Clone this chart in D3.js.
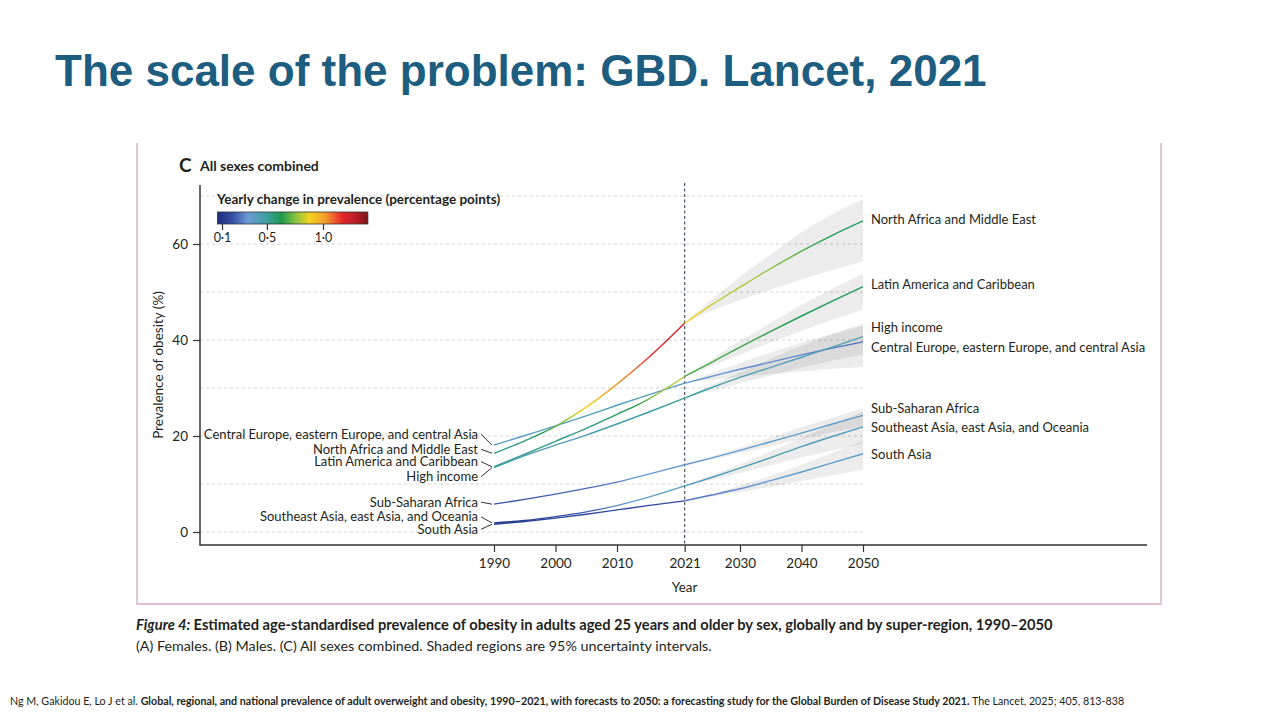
<!DOCTYPE html>
<html>
<head>
<meta charset="utf-8">
<script src="https://cdn.jsdelivr.net/npm/d3@7"></script>
<style>
  body { margin: 0; background: #fff; }
  svg text { font-family: Lato, "Open Sans", sans-serif; fill: #231f20; }
  .title { font-family: "Liberation Sans", Arial, sans-serif; font-weight: bold; fill: #1d5d7f; }
  .grid line { stroke: #d2d2d2; stroke-width: 1; stroke-dasharray: 3 3; }
  .axis .tick line { stroke: #333; stroke-width: 1.2; }
  .axis .tick text { font-size: 13.5px; fill: #231f20; }
</style>
</head>
<body>
<svg id="chart" width="1280" height="720"></svg>
<script>
// ---- data ----
const histYears = [1990, 1995, 2000, 2005, 2010, 2015, 2021];
const foreYears = [2021, 2025, 2030, 2035, 2040, 2045, 2050];

const regionNames = [
  'Central Europe, eastern Europe, and central Asia',
  'North Africa and Middle East',
  'Latin America and Caribbean',
  'High income',
  'Sub-Saharan Africa',
  'Southeast Asia, east Asia, and Oceania',
  'South Asia'
];

// estimated prevalence (%) 1990-2021
const histCEECA = [18.1, 20.1, 22.1, 24.2, 26.4, 28.5, 31.0];
const histNAME  = [16.4, 19.0, 22.0, 26.0, 30.8, 36.2, 43.5];
const histLAC   = [13.6, 16.2, 18.9, 21.6, 24.5, 27.6, 32.4];
const histHI    = [13.4, 15.9, 18.1, 20.2, 22.5, 24.9, 27.9];
const histSSA   = [5.8, 6.8, 7.9, 9.1, 10.4, 12.0, 14.0];
const histSEAO  = [1.9, 2.4, 3.2, 4.2, 5.5, 7.2, 9.6];
const histSA    = [1.6, 2.2, 2.9, 3.7, 4.6, 5.5, 6.5];

// forecasts 2021-2050
const foreCEECA = [31.0, 32.3, 33.9, 35.4, 36.9, 38.3, 39.6];
const foreNAME  = [43.5, 47.0, 51.0, 54.9, 58.5, 61.8, 64.8];
const foreLAC   = [32.4, 35.1, 38.5, 41.8, 45.0, 48.1, 51.1];
const foreHI    = [27.9, 29.9, 32.2, 34.3, 36.4, 38.5, 40.7];
const foreSSA   = [14.0, 15.3, 17.0, 18.8, 20.6, 22.5, 24.3];
const foreSEAO  = [9.6, 11.2, 13.3, 15.5, 17.8, 19.9, 21.9];
const foreSA    = [6.5, 7.6, 9.0, 10.7, 12.5, 14.4, 16.3];

// 95% uncertainty intervals of the forecasts
const loCEECA = [31.0, 31.6, 32.3, 32.9, 33.5, 34.0, 34.4];
const hiCEECA = [31.0, 32.9, 35.2, 37.4, 39.5, 41.3, 42.9];
const loNAME  = [43.5, 45.9, 48.3, 50.5, 52.6, 54.6, 56.3];
const hiNAME  = [43.5, 48.0, 53.2, 57.8, 62.4, 66.2, 69.4];
const loLAC   = [32.4, 34.4, 37.0, 39.5, 41.9, 44.2, 46.3];
const hiLAC   = [32.4, 35.7, 39.8, 43.6, 47.3, 50.7, 53.8];
const loHI    = [27.9, 29.3, 31.0, 32.6, 34.2, 35.7, 37.0];
const hiHI    = [27.9, 30.4, 33.3, 36.1, 38.8, 41.2, 43.5];
const loSSA   = [14.0, 15.0, 16.4, 17.9, 19.4, 20.8, 22.0];
const hiSSA   = [14.0, 15.6, 17.6, 19.7, 21.8, 23.8, 25.8];
const loSEAO  = [9.6, 10.8, 12.3, 13.9, 15.5, 17.0, 18.4];
const hiSEAO  = [9.6, 11.6, 14.1, 16.8, 19.6, 22.4, 25.1];
const loSA    = [6.5, 7.3, 8.3, 9.4, 10.6, 11.8, 13.0];
const hiSA    = [6.5, 7.9, 9.7, 11.7, 14.0, 16.5, 19.0];

const xTicks = [1990, 2000, 2010, 2021, 2030, 2040, 2050];
const yTicks = [0, 20, 40, 60];
const gridValues = [0, 10, 20, 30, 40, 50, 60, 70];
const legendTicks = [0.1, 0.5, 1.0];

// colour ramp of the yearly change
const changeStops  = [0.06, 0.2, 0.33, 0.5, 0.63, 0.76, 0.88, 1.02, 1.17, 1.3, 1.4];
const changeColors = ['#1f2d80', '#3450a6', '#6a9bd6', '#3e9ea0', '#1d9a4e', '#8cc43f',
                      '#f6d21f', '#f59b2b', '#e8262a', '#b51d25', '#7a1717'];

// label nudges (px) so neighbouring labels don't collide
const leftNudge  = [-11, -4, -5, 9, -2, -6, 5];
const rightNudge = [6, -2, -2, -9, -7, 1, 1];

const series = regionNames.map((name, i) => ({
  name,
  hist: [histCEECA, histNAME, histLAC, histHI, histSSA, histSEAO, histSA][i],
  fore: [foreCEECA, foreNAME, foreLAC, foreHI, foreSSA, foreSEAO, foreSA][i],
  lo: [loCEECA, loNAME, loLAC, loHI, loSSA, loSEAO, loSA][i],
  hi: [hiCEECA, hiNAME, hiLAC, hiHI, hiSSA, hiSEAO, hiSA][i],
  leftNudge: leftNudge[i],
  rightNudge: rightNudge[i]
}));

// ---- layout ----
const svg = d3.select('#chart');
const plotLeft = 200, plotRight = 1147, plotTop = 185, plotBottom = 545;

const x = d3.scaleLinear().domain([1990, 2050]).range([494, 863]);
const y = d3.scaleLinear().domain([0, 60]).range([532, 244]);
const color = d3.scaleLinear().domain(changeStops).range(changeColors).clamp(true);

// slide title
svg.append('text')
  .attr('class', 'title')
  .attr('x', 55).attr('y', 86)
  .style('font-size', '44px')
  .text('The scale of the problem: GBD. Lancet, 2021');

// pink frame of the pasted figure
svg.append('path')
  .attr('d', 'M137,143V604H1161V143')
  .attr('fill', 'none')
  .attr('stroke', '#dba8c2')
  .attr('stroke-width', 1.3);

// panel heading
svg.append('text').attr('x', 179).attr('y', 172)
  .style('font-size', '19px').style('font-weight', 'bold').text('C');
svg.append('text').attr('x', 200).attr('y', 171)
  .style('font-size', '14px').style('font-weight', 'bold').text('All sexes combined');

// dashed grid
svg.append('g').attr('class', 'grid')
  .selectAll('line').data(gridValues).join('line')
  .attr('x1', plotLeft).attr('x2', x(2050))
  .attr('y1', d => y(d)).attr('y2', d => y(d));

const defs = svg.append('defs');

// uncertainty bands
const band = d3.area()
  .x((d, i) => x(foreYears[i]))
  .y0(d => y(d[0]))
  .y1(d => y(d[1]))
  .curve(d3.curveMonotoneX);

svg.append('g').selectAll('path').data(series).join('path')
  .attr('d', s => band(s.lo.map((v, i) => [v, s.hi[i]])))
  .attr('fill', '#000')
  .attr('fill-opacity', 0.075);

// 2021 divider
svg.append('line')
  .attr('x1', x(2021)).attr('x2', x(2021))
  .attr('y1', plotTop - 2).attr('y2', plotBottom)
  .attr('stroke', '#4d5863').attr('stroke-width', 1.2)
  .attr('stroke-dasharray', '3 2.5');

// lines coloured by the yearly change
const line = d3.line()
  .x(d => x(d.year))
  .y(d => y(d.value))
  .curve(d3.curveMonotoneX);

function slopeStops(years, values) {
  const stops = [];
  const n = years.length;
  const span = years[n - 1] - years[0];
  years.forEach((yr, i) => {
    let s;
    if (i === 0) s = (values[1] - values[0]) / (years[1] - years[0]);
    else if (i === n - 1) s = (values[i] - values[i - 1]) / (years[i] - years[i - 1]);
    else s = (values[i + 1] - values[i - 1]) / (years[i + 1] - years[i - 1]);
    stops.push({ offset: (yr - years[0]) / span, color: color(s) });
    if (i < n - 1) {
      const seg = (values[i + 1] - values[i]) / (years[i + 1] - years[i]);
      const mid = (yr + years[i + 1]) / 2;
      stops.push({ offset: (mid - years[0]) / span, color: color(seg) });
    }
  });
  return stops;
}

function drawPart(s, idx, part, years, values) {
  const id = `grad-${idx}-${part}`;
  defs.append('linearGradient')
    .attr('id', id)
    .attr('gradientUnits', 'userSpaceOnUse')
    .attr('x1', x(years[0])).attr('x2', x(years[years.length - 1]))
    .attr('y1', 0).attr('y2', 0)
    .selectAll('stop').data(slopeStops(years, values)).join('stop')
    .attr('offset', d => d.offset)
    .attr('stop-color', d => d.color);

  svg.append('path')
    .datum(years.map((yr, i) => ({ year: yr, value: values[i] })))
    .attr('d', line)
    .attr('fill', 'none')
    .attr('stroke', `url(#${id})`)
    .attr('stroke-width', 1.4);
}

series.forEach((s, i) => {
  drawPart(s, i, 'h', histYears, s.hist);
  drawPart(s, i, 'f', foreYears, s.fore);
});

// axes
const xAxis = d3.axisBottom(x).tickValues(xTicks).tickSize(7).tickPadding(6)
  .tickFormat(d3.format('d'));
const xAxisG = svg.append('g').attr('class', 'axis')
  .attr('transform', `translate(0,${plotBottom})`).call(xAxis);
xAxisG.select('.domain').remove();

const yAxis = d3.axisLeft(y).tickValues(yTicks).tickSize(7).tickPadding(5);
const yAxisG = svg.append('g').attr('class', 'axis')
  .attr('transform', `translate(${plotLeft},0)`).call(yAxis);
yAxisG.select('.domain').remove();

svg.append('path')
  .attr('d', `M${plotLeft},${plotTop}V${plotBottom}H${plotRight}`)
  .attr('fill', 'none').attr('stroke', '#333').attr('stroke-width', 1.5);

svg.append('text')
  .attr('x', x(2021)).attr('y', 592)
  .attr('text-anchor', 'middle')
  .style('font-size', '13.5px')
  .text('Year');

svg.append('text')
  .attr('transform', 'translate(163,365) rotate(-90)')
  .attr('text-anchor', 'middle')
  .style('font-size', '13.5px')
  .text('Prevalence of obesity (%)');

// left labels with leader lines
const leftG = svg.append('g');
series.forEach(s => {
  const ly = y(s.hist[0]);
  const ty = ly + s.leftNudge;
  leftG.append('text')
    .attr('x', 478).attr('y', ty).attr('dy', '0.35em')
    .attr('text-anchor', 'end')
    .style('font-size', '13px')
    .text(s.name);
  leftG.append('line')
    .attr('x1', 481).attr('y1', ty)
    .attr('x2', 492).attr('y2', ly)
    .attr('stroke', '#333').attr('stroke-width', 1);
});

// right labels
svg.append('g').selectAll('text').data(series).join('text')
  .attr('x', 871)
  .attr('y', s => y(s.fore[s.fore.length - 1]) + s.rightNudge)
  .attr('dy', '0.35em')
  .style('font-size', '13px')
  .text(s => s.name);

// legend
const lx = d3.scaleLinear().domain([0.1, 1.0]).range([222, 323]);
const legendG = svg.append('g');
legendG.append('text').attr('x', 217).attr('y', 204)
  .style('font-size', '13.5px').style('font-weight', 'bold')
  .text('Yearly change in prevalence (percentage points)');

const lgrad = defs.append('linearGradient')
  .attr('id', 'legend-grad')
  .attr('gradientUnits', 'userSpaceOnUse')
  .attr('x1', lx(changeStops[0])).attr('x2', lx(changeStops[changeStops.length - 1]))
  .attr('y1', 0).attr('y2', 0);
lgrad.selectAll('stop').data(changeStops).join('stop')
  .attr('offset', d => (d - changeStops[0]) / (changeStops[changeStops.length - 1] - changeStops[0]))
  .attr('stop-color', (d, i) => changeColors[i]);

legendG.append('rect')
  .attr('x', lx(changeStops[0])).attr('y', 212)
  .attr('width', lx(changeStops[changeStops.length - 1]) - lx(changeStops[0]))
  .attr('height', 12)
  .attr('fill', 'url(#legend-grad)')
  .attr('stroke', '#333').attr('stroke-width', 0.8);

const legendAxis = d3.axisBottom(lx).tickValues(legendTicks).tickSize(6).tickPadding(3)
  .tickFormat(d => d3.format('.1f')(d).replace('.', '\u00b7'));
const legendAxisG = legendG.append('g').attr('class', 'axis')
  .attr('transform', 'translate(0,224)').call(legendAxis);
legendAxisG.select('.domain').remove();
legendAxisG.selectAll('.tick text').style('font-size', '12.5px');

// caption
const cap = svg.append('text').attr('x', 136).attr('y', 630).style('font-size', '14.7px');
cap.append('tspan').style('font-weight', 'bold').style('font-style', 'italic').text('Figure 4: ');
cap.append('tspan').style('font-weight', 'bold')
  .text('Estimated age-standardised prevalence of obesity in adults aged 25 years and older by sex, globally and by super-region, 1990\u20132050');
svg.append('text').attr('x', 136).attr('y', 651).style('font-size', '14.3px')
  .text('(A) Females. (B) Males. (C) All sexes combined. Shaded regions are 95% uncertainty intervals.');

// source line
const src = svg.append('text').attr('x', 10).attr('y', 705).style('font-size', '10.7px');
src.append('tspan').text('Ng M, Gakidou E, Lo J et al. ');
src.append('tspan').style('font-weight', 'bold')
  .text('Global, regional, and national prevalence of adult overweight and obesity, 1990\u20132021, with forecasts to 2050: a forecasting study for the Global Burden of Disease Study 2021.');
src.append('tspan').text(' The Lancet, 2025; 405, 813-838');
</script>
</body>
</html>
